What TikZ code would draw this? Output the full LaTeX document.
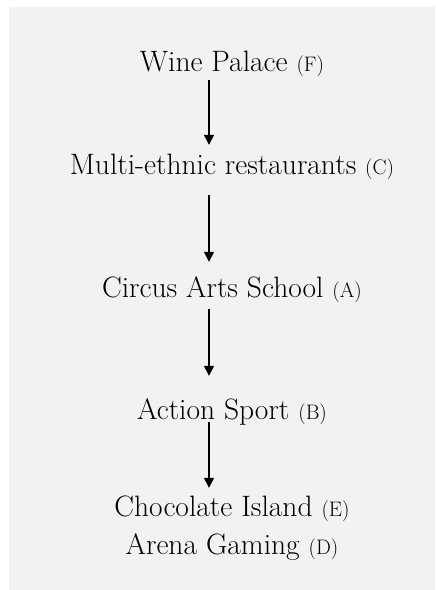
\documentclass[tikz,border=0pt]{standalone}
\usetikzlibrary{arrows.meta}
\definecolor{bggray}{HTML}{F2F2F2}
\begin{document}
\begin{tikzpicture}[x=1pt,y=1pt,
  lbl/.style={anchor=base,inner sep=0pt,text height=20pt,text depth=6pt,
    font=\fontsize{29.5}{34}\selectfont},
  arr/.style={line width=1.6pt,-{Triangle[width=10pt,length=10pt]}}]
\newcommand{\tag}[1]{{\fontsize{21}{24}\selectfont(#1)}}
\useasboundingbox (0,0) rectangle (436,590);
\fill[bggray] (9,0) rectangle (435,583);
\node[lbl] (f) at (232,518) {Wine Palace \tag{F}};
\node[lbl] (c) at (232,415) {Multi-ethnic restaurants \tag{C}};
\node[lbl] (a) at (232,292) {Circus Arts School \tag{A}};
\node[lbl] (b) at (232,170) {Action Sport \tag{B}};
\node[lbl] (e) at (232,73) {Chocolate Island \tag{E}};
\node[lbl] (d) at (232,35) {Arena Gaming \tag{D}};
\draw[arr,shorten <=2pt,shorten >=10pt] ([xshift=-23pt]f.south) -- ([xshift=-23pt]c.north);
\draw[arr,shorten <=14pt,shorten >=16pt] ([xshift=-23pt]c.south) -- ([xshift=-23pt]a.north);
\draw[arr,shorten <=5pt,shorten >=24pt] ([xshift=-23pt]a.south) -- ([xshift=-23pt]b.north);
\draw[arr,shorten <=-4pt,shorten >=9pt] ([xshift=-23pt]b.south) -- ([xshift=-23pt]e.north);
\end{tikzpicture}
\end{document}
